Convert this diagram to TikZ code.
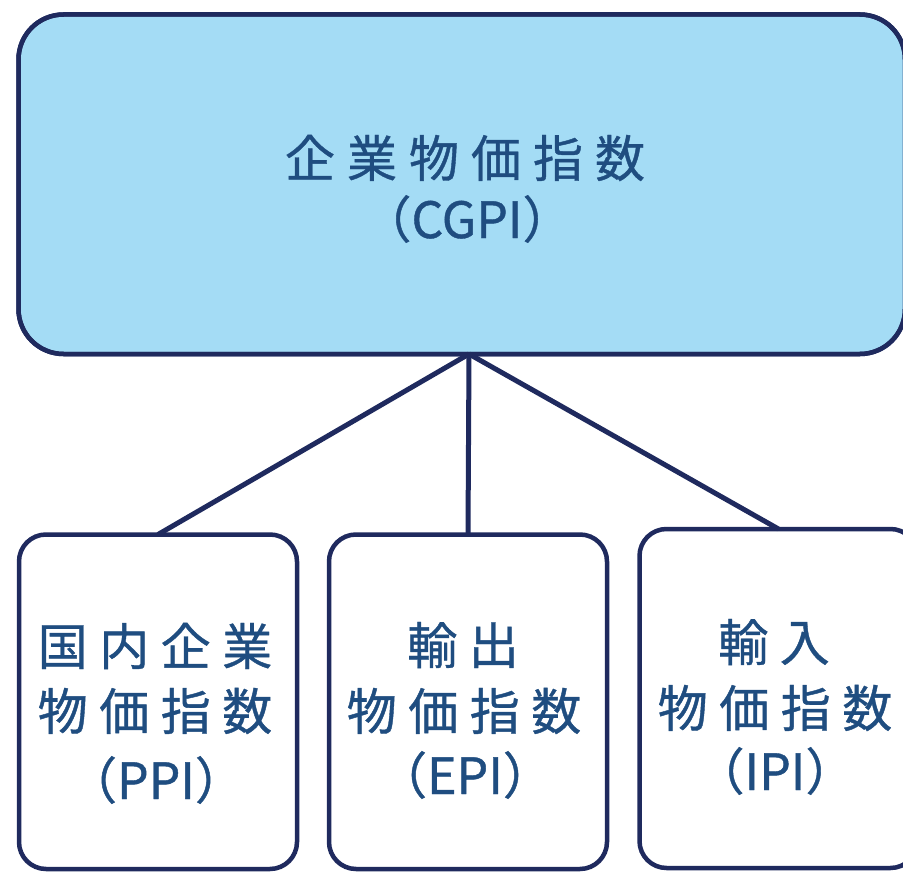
\documentclass[tikz,border=0pt]{standalone}
\usepackage{fontspec}
\setmainfont{Noto Sans CJK JP}[FakeBold=0.8]
\definecolor{navy}{HTML}{1F2A5E}
\definecolor{txt}{HTML}{1F4D80}
\definecolor{sky}{HTML}{A4DCF5}
\newcommand\gT{\hspace{12pt}}
\newcommand\gB{\hspace{11.5pt}}
\tikzset{
  topbox/.style={draw=navy, fill=sky, line width=4.5pt, rounded corners=45pt, inner sep=0pt, outer sep=0pt},
  subbox/.style={draw=navy, fill=white, line width=4.5pt, rounded corners=27pt, inner sep=0pt, outer sep=0pt, minimum width=278pt},
  label/.style={text=txt, inner sep=0pt, font=\fontsize{50}{60}\selectfont},
  link/.style={draw=navy, line width=5pt}
}
\begin{document}
\begin{tikzpicture}[x=1pt,y=-1pt]
\useasboundingbox (0,0) rectangle (903,872);
\clip (0,0) rectangle (903,872);
\node[topbox, minimum width=886.5pt, minimum height=339.5pt] (cgpi) at (461.75,184.25) {};
\node[subbox, minimum height=334.5pt] (ppi) at (158,701.75) {};
\node[subbox, minimum height=334.5pt] (epi) at (468,701.75) {};
\node[subbox, minimum height=339pt] (ipi) at (778.5,698.5) {};
\coordinate (hub) at (469,354);
\draw[link] (hub) -- (ppi.north);
\draw[link] (hub) -- (epi.north);
\draw[link] (hub) -- (ipi.north);
\draw[navy, line width=4.5pt, rounded corners=45pt] (18.5,14.5) rectangle (905,354);
% top texts
\node[label] (t1) at (465,158) {企\gT 業\gT 物\gT 価\gT 指\gT 数};
\node[label] (t2) at (467,219) {（CGPI）};
% box 1
\node[label] (p1) at (155,646) {国\gB 内\gB 企\gB 業};
\node[label] (p2) at (155,711) {物\gB 価\gB 指\gB 数};
\node[label] (p3) at (156,780) {（PPI）};
% box 2
\node[label] (e1) at (463,645) {輸\gB 出};
\node[label] (e2) at (464,711) {物\gB 価\gB 指\gB 数};
\node[label] (e3) at (465,775) {（EPI）};
% box 3
\node[label] (i1) at (774,642) {輸\gB 入};
\node[label] (i2) at (775,708) {物\gB 価\gB 指\gB 数};
\node[label] (i3) at (775,771) {（IPI）};
\end{tikzpicture}
\end{document}
